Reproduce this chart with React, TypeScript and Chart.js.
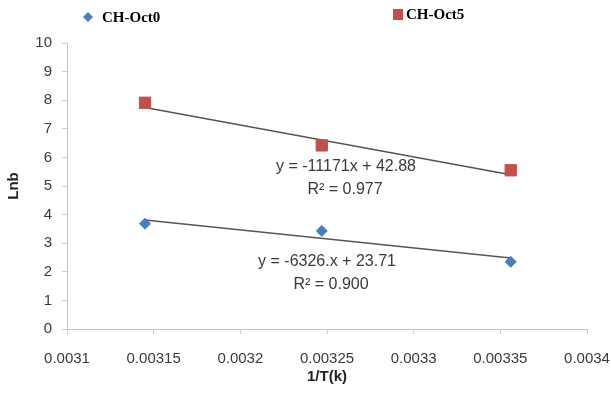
import React, { useEffect, useRef } from "react";
import { Chart, registerables } from "chart.js";

Chart.register(...registerables);

const seriesNames = ["CH-Oct0", "CH-Oct5"];
const xValues = [0.003145, 0.003247, 0.003356];
const oct0Values = [3.68, 3.43, 2.35];
const oct5Values = [7.91, 6.42, 5.55];
const trendSlopes = [-6326, -11171];
const trendIntercepts = [23.71, 42.88];
const trendLabels = [
  ["y = -6326.x + 23.71", "R\u00b2 = 0.900"],
  ["y = -11171x + 42.88", "R\u00b2 = 0.977"],
];
const xTickLabels = ["0.0031", "0.00315", "0.0032", "0.00325", "0.0033", "0.00335", "0.0034"];
const xTitle = "1/T(k)";
const yTitle = "Lnb";

const BLUE = "#4a7dc0";
const RED = "#c0504d";
const LINE = "#555555";
const TEXT = "#3a3a3a";

function trendPoints(i: number) {
  const x0 = xValues[0];
  const x1 = xValues[xValues.length - 1];
  return [
    { x: x0, y: trendSlopes[i] * x0 + trendIntercepts[i] },
    { x: x1, y: trendSlopes[i] * x1 + trendIntercepts[i] },
  ];
}

const overlayPlugin = {
  id: "overlay",
  afterDraw(chart: any) {
    const ctx = chart.ctx;
    ctx.save();
    // legend
    ctx.fillStyle = BLUE;
    ctx.beginPath();
    ctx.moveTo(88, 12);
    ctx.lineTo(93, 17);
    ctx.lineTo(88, 22);
    ctx.lineTo(83, 17);
    ctx.closePath();
    ctx.fill();
    ctx.fillStyle = RED;
    ctx.fillRect(393, 9, 10, 11);
    ctx.fillStyle = "#000";
    ctx.font = "bold 15px 'Liberation Serif'";
    ctx.textAlign = "left";
    ctx.textBaseline = "middle";
    ctx.fillText(seriesNames[0], 102, 18);
    ctx.fillText(seriesNames[1], 406, 15);
    // trend annotations
    ctx.fillStyle = TEXT;
    ctx.font = "16px 'Liberation Sans'";
    ctx.textAlign = "center";
    ctx.fillText(trendLabels[1][0], 346, 167);
    ctx.fillText(trendLabels[1][1], 345, 190);
    ctx.fillText(trendLabels[0][0], 327, 262);
    ctx.fillText(trendLabels[0][1], 331, 285);
    ctx.restore();
  },
};

export default function App() {
  const ref = useRef<HTMLCanvasElement>(null);
  useEffect(() => {
    if (!ref.current) return;
    const chart = new Chart(ref.current, {
      type: "scatter",
      data: {
        datasets: [
          {
            label: seriesNames[0],
            data: xValues.map((x, i) => ({ x, y: oct0Values[i] })),
            pointStyle: "rectRot",
            pointRadius: 5.5,
            backgroundColor: BLUE,
            borderColor: BLUE,
            borderWidth: 1,
          },
          {
            label: seriesNames[1],
            data: xValues.map((x, i) => ({ x, y: oct5Values[i] })),
            pointStyle: "rect",
            pointRadius: 8,
            backgroundColor: RED,
            borderColor: RED,
            borderWidth: 1,
          },
          {
            label: seriesNames[0] + " trend",
            data: trendPoints(0),
            showLine: true,
            borderColor: LINE,
            borderWidth: 1.5,
            pointRadius: 0,
          },
          {
            label: seriesNames[1] + " trend",
            data: trendPoints(1),
            showLine: true,
            borderColor: LINE,
            borderWidth: 1.5,
            pointRadius: 0,
          },
        ],
      },
      options: {
        animation: false,
        responsive: false,
        devicePixelRatio: 1,
        layout: { padding: { top: 43, right: 43, left: 0, bottom: 0 } },
        plugins: { legend: { display: false }, tooltip: { enabled: false } },
        scales: {
          x: {
            type: "linear",
            min: 0.0031,
            max: 0.0034,
            afterFit: (s: any) => {
              s.height = 69;
            },
            ticks: {
              stepSize: 0.00005,
              color: TEXT,
              font: { family: "'Liberation Sans'", size: 15 },
              padding: 16,
              maxRotation: 0,
              autoSkip: false,
              callback: (v: any, i: number) => xTickLabels[i] ?? String(Number(Number(v).toFixed(5))),
            },
            grid: { drawOnChartArea: false, tickLength: 5, color: "#cccccc" },
            border: { color: "#c4c4c4" },
            title: {
              display: true,
              text: xTitle,
              color: "#222",
              font: { family: "'Liberation Sans'", size: 15, weight: "bold" },
              padding: { top: 0, bottom: 12 },
            },
          },
          y: {
            min: 0,
            max: 10,
            afterFit: (s: any) => {
              s.width = 67;
            },
            ticks: {
              stepSize: 1,
              color: TEXT,
              font: { family: "'Liberation Sans'", size: 15 },
              padding: 10,
            },
            grid: { drawOnChartArea: false, tickLength: 5, color: "#cccccc" },
            border: { color: "#c4c4c4" },
            title: {
              display: true,
              text: yTitle,
              color: "#222",
              font: { family: "'Liberation Sans'", size: 15, weight: "bold" },
              padding: { top: 5, bottom: 0 },
            },
          },
        },
      },
      plugins: [overlayPlugin],
    });
    return () => chart.destroy();
  }, []);
  return (
    <div style={{ position: "absolute", left: 0, top: 0, width: 611, height: 398, overflow: "hidden", background: "#fff" }}>
      <canvas ref={ref} width={630} height={398} style={{ display: "block" }} />
    </div>
  );
}
